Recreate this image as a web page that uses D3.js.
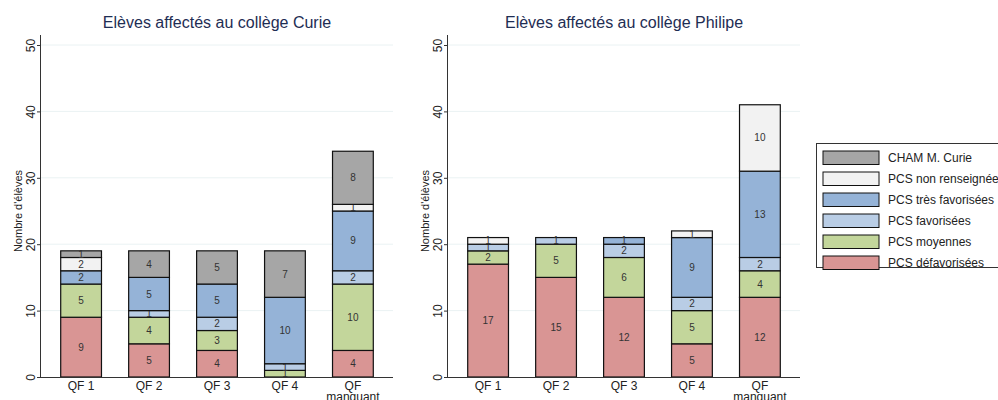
<!DOCTYPE html>
<html lang="fr">
<head>
<meta charset="utf-8">
<title>Elèves affectés</title>
<script src="https://cdn.jsdelivr.net/npm/d3@7"></script>
<style>
  html, body { margin: 0; padding: 0; background: #fff; }
  body { font-family: "Liberation Sans", Arial, sans-serif; }
</style>
</head>
<body>
<script>
// categories and series (bottom to top of each stack)
let categories = ["QF 1", "QF 2", "QF 3", "QF 4", "QF manquant"];
let series = ["PCS défavorisées", "PCS moyennes", "PCS favorisées", "PCS très favorisées", "PCS non renseignée", "CHAM M. Curie"];
let colors = ["#d99594", "#c3d69b", "#b9cde5", "#95b3d7", "#f2f2f2", "#a6a6a6"];

// Curie values, one array per series
let curieDefav   = [9, 5, 4, 0, 4];
let curieMoy     = [5, 4, 3, 1, 10];
let curieFav     = [0, 1, 2, 1, 2];
let curieTresFav = [2, 5, 5, 10, 9];
let curieNonRens = [2, 0, 0, 0, 1];
let curieCham    = [1, 4, 5, 7, 8];

// Philipe values
let philDefav   = [17, 15, 12, 5, 12];
let philMoy     = [2, 5, 6, 5, 4];
let philFav     = [1, 1, 2, 2, 2];
let philTresFav = [0, 0, 1, 9, 13];
let philNonRens = [1, 0, 0, 1, 10];
let philCham    = [0, 0, 0, 0, 0];

let yTicks = [0, 10, 20, 30, 40, 50];

let w = 998, h = 400;
let svg = d3.select("body").append("svg").attr("width", w).attr("height", h);

function buildRows(cols) {
  return categories.map((c, i) => {
    let row = { cat: c };
    series.forEach((s, j) => { row[s] = cols[j][i]; });
    return row;
  });
}

let panels = [
  { title: "Elèves affectés au collège Curie", left: 41,
    rows: buildRows([curieDefav, curieMoy, curieFav, curieTresFav, curieNonRens, curieCham]) },
  { title: "Elèves affectés au collège Philipe", left: 448,
    rows: buildRows([philDefav, philMoy, philFav, philTresFav, philNonRens, philCham]) }
];

let plotTop = 45, plotBottom = 377, plotW = 352;

let yScale = d3.scaleLinear().domain([0, 50]).range([plotBottom, plotTop]);

panels.forEach(p => {
  let g = svg.append("g");
  let x = d3.scaleBand().domain(categories)
    .range([p.left, p.left + plotW])
    .paddingInner(0.4).paddingOuter(0.29);

  // gridlines
  g.selectAll("line.grid").data(yTicks.slice(1)).enter().append("line")
    .attr("x1", p.left).attr("x2", p.left + plotW)
    .attr("y1", d => yScale(d)).attr("y2", d => yScale(d))
    .attr("stroke", "#eaf2f3").attr("stroke-width", 1);

  let stacked = d3.stack().keys(series)(p.rows);

  stacked.forEach((layer, j) => {
    let lg = g.append("g");
    let segs = layer.filter(d => d[1] > d[0]);
    lg.selectAll("rect").data(segs).enter().append("rect")
      .attr("x", d => x(d.data.cat))
      .attr("y", d => yScale(d[1]))
      .attr("width", x.bandwidth())
      .attr("height", d => yScale(d[0]) - yScale(d[1]))
      .attr("fill", colors[j])
      .attr("stroke", "#111")
      .attr("stroke-width", 1.2);
    lg.selectAll("text").data(segs).enter().append("text")
      .attr("x", d => x(d.data.cat) + x.bandwidth() / 2)
      .attr("y", d => (yScale(d[0]) + yScale(d[1])) / 2 + 3.5)
      .attr("text-anchor", "middle")
      .attr("font-size", "10px")
      .attr("fill", "#333")
      .text(d => d[1] - d[0]);
  });

  // y axis
  let yAxis = d3.axisLeft(yScale).tickValues(yTicks).tickSize(4).tickPadding(6);
  let ya = g.append("g").attr("transform", "translate(" + p.left + ",0)").call(yAxis);
  ya.select(".domain").attr("stroke", "#333").attr("d", "M-0.5," + plotBottom + "V" + (plotTop - 10));
  ya.selectAll(".tick line").attr("stroke", "#333");
  ya.selectAll(".tick text")
    .attr("font-size", "12px").attr("fill", "#222")
    .attr("font-family", "Liberation Sans, Arial, sans-serif")
    .attr("text-anchor", "middle")
    .attr("x", 0).attr("y", 0).attr("dy", "0")
    .attr("transform", "translate(-6,0) rotate(-90)");

  // x axis
  let xAxis = d3.axisBottom(x).tickSize(0).tickFormat("");
  let xa = g.append("g").attr("transform", "translate(0," + plotBottom + ")").call(xAxis);
  xa.select(".domain").attr("stroke", "#333").attr("d", "M" + p.left + ",0.5H" + (p.left + plotW));
  categories.forEach(c => {
    let parts = c === "QF manquant" ? ["QF", "manquant"] : [c];
    let t = g.append("text")
      .attr("x", x(c) + x.bandwidth() / 2)
      .attr("y", plotBottom + 13)
      .attr("text-anchor", "middle")
      .attr("font-size", "12px").attr("fill", "#222");
    parts.forEach((s, k) => {
      t.append("tspan").attr("x", x(c) + x.bandwidth() / 2).attr("dy", k === 0 ? 0 : 11).text(s);
    });
  });

  // y title
  g.append("text")
    .attr("transform", "translate(" + (p.left - 19) + "," + ((plotTop + plotBottom) / 2) + ") rotate(-90)")
    .attr("text-anchor", "middle")
    .attr("font-size", "11px").attr("fill", "#222")
    .text("Nombre d'élèves");

  // title
  g.append("text")
    .attr("x", p.left + plotW / 2)
    .attr("y", 28)
    .attr("text-anchor", "middle")
    .attr("font-size", "16px").attr("fill", "#1e2d53")
    .text(p.title);
});

// legend
let leg = svg.append("g");
leg.append("rect").attr("x", 816.5).attr("y", 143.5).attr("width", 200).attr("height", 124)
  .attr("fill", "#fff").attr("stroke", "#333");
let order = series.slice().reverse();
let ocolors = colors.slice().reverse();
let legY = d3.scaleBand().domain(order).range([151, 277]);
order.forEach((s, i) => {
  leg.append("rect").attr("x", 823).attr("y", legY(s)).attr("width", 56).attr("height", 13.5)
    .attr("fill", ocolors[i]).attr("stroke", "#111").attr("stroke-width", 1);
  leg.append("text").attr("x", 888).attr("y", legY(s) + 11)
    .attr("font-size", "12px").attr("fill", "#222").text(s);
});
</script>
</body>
</html>
